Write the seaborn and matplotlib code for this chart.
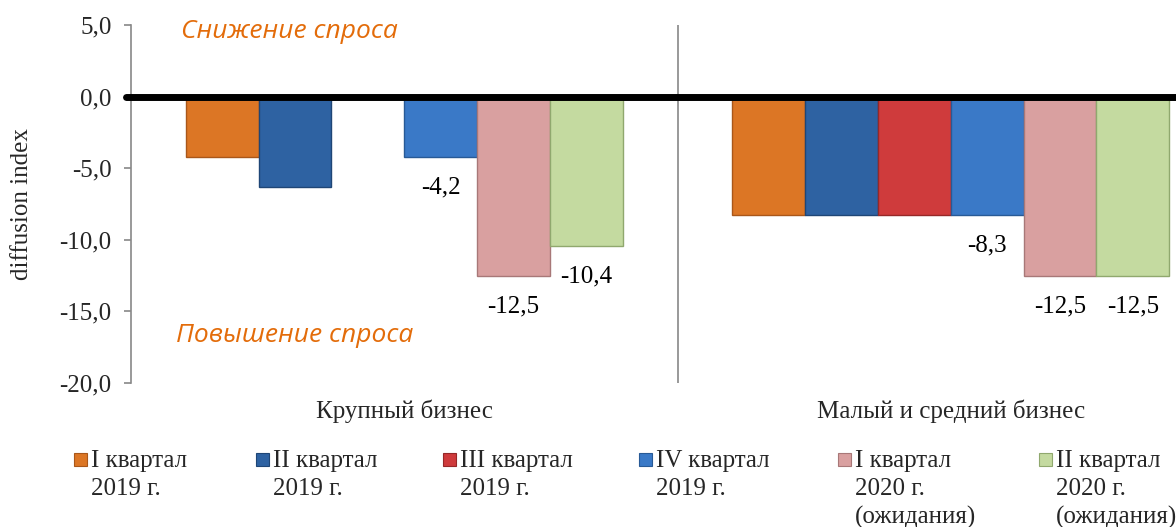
import numpy as np
import pandas as pd
import matplotlib
matplotlib.use("Agg")
import matplotlib.pyplot as plt
from matplotlib.patches import Rectangle
from matplotlib.ticker import FuncFormatter, FixedLocator
import seaborn as sns

# ---- data ----
categories = ["Крупный бизнес", "Малый и средний бизнес"]
series = ["I квартал\n2019 г.", "II квартал\n2019 г.", "III квартал\n2019 г.",
          "IV квартал\n2019 г.", "I квартал\n2020 г.\n(ожидания)", "II квартал\n2020 г.\n(ожидания)"]
large_business = [-4.2, -6.3, np.nan, -4.2, -12.5, -10.4]
sme_business = [-8.3, -8.3, -8.3, -8.3, -12.5, -12.5]
labeled_series = [3, 4, 5]
y_ticks = [5.0, 0.0, -5.0, -10.0, -15.0, -20.0]
colors = ["#DC7625", "#2E62A2", "#CF3B3C", "#3A79C7", "#D9A0A0", "#C4DAA0"]
edges = ["#A9571A", "#1F4676", "#962828", "#285A96", "#A87878", "#90A86E"]

rows = []
for s, a, b in zip(series, large_business, sme_business):
    rows.append({"cat": categories[0], "series": s, "value": a})
    rows.append({"cat": categories[1], "series": s, "value": b})
df = pd.DataFrame(rows)

sns.set_theme(style="white")
plt.rcParams["font.family"] = ["Liberation Serif", "DejaVu Serif"]

W, H = 1176, 527
fig = plt.figure(figsize=(W / 100, H / 100), dpi=100)
ax = fig.add_axes([131 / W, 1 - 383 / H, 1093 / W, 358 / H])

sns.barplot(data=df, x="cat", y="value", hue="series", order=categories,
            hue_order=series, palette=colors, width=0.8, ax=ax, legend=False,
            saturation=1, err_kws={"linewidth": 0})

for cont, ec in zip(ax.containers, edges):
    for p in cont.patches:
        p.set_edgecolor(ec)
        p.set_linewidth(1.0)

fmt = lambda v: f"{v:.1f}".replace(".", ",")
for idx in labeled_series:
    cont = ax.containers[idx]
    vals = [p.get_height() for p in cont.patches]
    ax.bar_label(cont, labels=[fmt(v) for v in vals], padding=14, fontsize=18,
                 color="black")

ax.set_ylim(-20, 5)
ax.set_xlim(-0.5, 1.5)
ax.yaxis.set_major_locator(FixedLocator(y_ticks))
ax.yaxis.set_major_formatter(FuncFormatter(lambda v, p: fmt(v)))
ax.tick_params(axis="y", labelsize=18, length=5, width=1.2, color="#888888",
               left=True, pad=9)
ax.tick_params(axis="x", labelsize=18, length=0, pad=12)
ax.set_xlabel("")
ax.set_ylabel("diffusion index", fontsize=18, labelpad=19)

for s in ["top", "right", "bottom"]:
    ax.spines[s].set_visible(False)
ax.spines["left"].set_color("#888888")
ax.spines["left"].set_linewidth(1.2)

ax.axvline(0.5, color="#888888", lw=1.2, zorder=0)
ax.axhline(0, xmin=-0.005, xmax=1, color="black", lw=5, zorder=5, clip_on=False)

fig.text(181 / W, 1 - 32 / H, "Снижение спроса", fontsize=19, style="italic",
         color="#E36C0A", family="Open Sans", va="center", ha="left")
fig.text(176 / W, 1 - 335 / H, "Повышение спроса", fontsize=19, style="italic",
         color="#E36C0A", family="Open Sans", va="center", ha="left")

# ---- legend ----
marker_left = [74, 256, 443, 639, 838, 1039]
for lab, col, ec, mx in zip(series, colors, edges, marker_left):
    fig.patches.append(Rectangle((mx / W, 1 - 466 / H), 12.5 / W, 13 / H,
                                 transform=fig.transFigure, facecolor=col,
                                 edgecolor=ec, lw=0.8))
    fig.text((mx + 17) / W, 1 - 450 / H, lab, fontsize=18, va="top", ha="left",
             linespacing=1.33)

fig.savefig("out.png", dpi=100)
